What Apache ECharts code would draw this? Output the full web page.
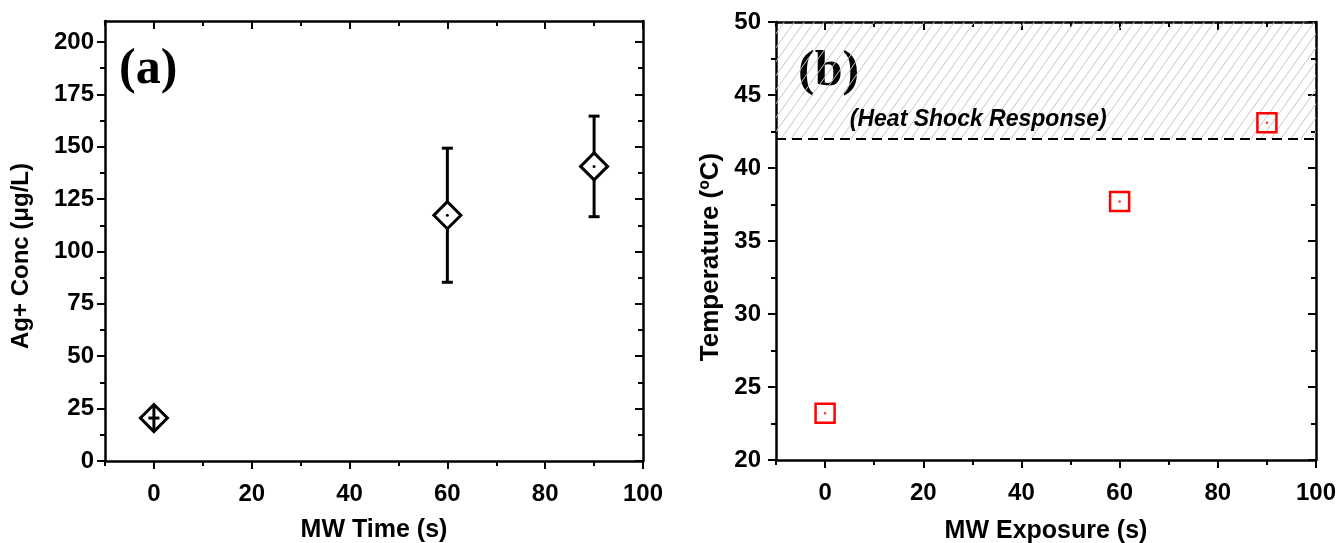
<!DOCTYPE html>
<html><head><meta charset="utf-8">
<script src="https://cdn.jsdelivr.net/npm/echarts@6.0.0/dist/echarts.min.js"></script>
<style>html,body{margin:0;padding:0;background:#fff}#c{width:1338px;height:543px}</style>
</head><body><div id="c"></div>
<script>
// ---- data ----
const agTime = [0, 60, 90];
const agConc = [20.5, 117.3, 140.6];
const agErr = [3, 32, 24];
const tempTime = [0, 60, 90];
const tempVal = [23.2, 37.7, 43.1];
const heatShockLow = 42;
const heatShockHigh = 50;
const annotationText = '(Heat Shock Response)';
const annotationPos = [31.2, 43.3];
const xMajor = [0, 20, 40, 60, 80, 100];
const xMinor = [-10, 10, 30, 50, 70, 90];
const yLeftMajor = [0, 25, 50, 75, 100, 125, 150, 175, 200];
const yLeftMinor = [12.5, 37.5, 62.5, 87.5, 112.5, 137.5, 162.5, 187.5];
const yRightMajor = [20, 25, 30, 35, 40, 45, 50];
const yRightMinor = [22.5, 27.5, 32.5, 37.5, 42.5, 47.5];

const FONT = 'Liberation Sans';

function makeAxes(dim, gi, min, max, major, minor, title, cfg) {
  const mainPos = dim === 'x' ? 'bottom' : 'left';
  const oppPos = dim === 'x' ? 'top' : 'right';
  const base = {type: 'value', gridIndex: gi, min: min, max: max, splitLine: {show: false}, axisPointer: {show: false}};
  const line = {show: true, onZero: false, lineStyle: {color: '#000', width: 2.5}};
  const noLine = {show: false, onZero: false};
  const ts = {color: '#000', width: 2};
  return [
    Object.assign({}, base, {
      position: mainPos, axisLine: line,
      axisTick: {show: true, inside: false, length: 8, customValues: major, lineStyle: ts},
      axisLabel: {show: true, customValues: major, margin: cfg.labelMargin, color: '#000',
        fontFamily: FONT, fontWeight: 'bold', fontSize: cfg.labelSize},
      name: title, nameLocation: 'middle', nameGap: cfg.nameGap,
      nameTextStyle: {color: '#000', fontFamily: FONT, fontWeight: 'bold', fontSize: cfg.nameSize,
        padding: cfg.namePadding || 0}
    }),
    Object.assign({}, base, {position: mainPos, axisLine: noLine,
      axisTick: {show: true, inside: false, length: 5, customValues: minor, lineStyle: ts},
      axisLabel: {show: false}}),
    Object.assign({}, base, {position: oppPos, axisLine: line,
      axisTick: {show: true, inside: true, length: 8, customValues: major, lineStyle: ts},
      axisLabel: {show: false}}),
    Object.assign({}, base, {position: oppPos, axisLine: noLine,
      axisTick: {show: true, inside: true, length: 5, customValues: minor, lineStyle: ts},
      axisLabel: {show: false}})
  ];
}

function hatchPattern() {
  const c = document.createElement('canvas');
  c.width = 10; c.height = 14;
  const g = c.getContext('2d');
  g.strokeStyle = '#c6c6c6'; g.lineWidth = 1;
  g.beginPath();
  g.moveTo(0, 14); g.lineTo(10, 0);
  g.moveTo(-10, 14); g.lineTo(0, 0);
  g.moveTo(10, 14); g.lineTo(20, 0);
  g.stroke();
  return c;
}

const chart = echarts.init(document.getElementById('c'), null, {renderer: 'canvas'});

const xAxes = [].concat(
  makeAxes('x', 0, -10, 100, xMajor, xMinor, 'MW Time (s)', {labelMargin: 21, labelSize: 24, nameGap: 57, nameSize: 25}),
  makeAxes('x', 1, -10, 100, xMajor, xMinor, 'MW Exposure (s)', {labelMargin: 21, labelSize: 24, nameGap: 59, nameSize: 25})
);
const yAxes = [].concat(
  makeAxes('y', 0, 0, 210, yLeftMajor, yLeftMinor, 'Ag+ Conc (\u03bcg/L)', {labelMargin: 11, labelSize: 24, nameGap: 72, nameSize: 24, namePadding: [0, 30, 0, 0]}),
  makeAxes('y', 1, 20, 50, yRightMajor, yRightMinor, 'Temperature (\u00baC)', {labelMargin: 15, labelSize: 24, nameGap: 52, nameSize: 26, namePadding: [0, 32, 0, 0]})
);

const agData = agTime.map((t, i) => [t, agConc[i], agErr[i]]);
const tempData = tempTime.map((t, i) => [t, tempVal[i]]);

chart.setOption({
  backgroundColor: '#fff',
  animation: false,
  grid: [
    {left: 105, top: 21, width: 538, height: 440, outerBoundsMode: 'none'},
    {left: 776, top: 22, width: 540, height: 438, outerBoundsMode: 'none'}
  ],
  xAxis: xAxes,
  yAxis: yAxes,
  graphic: [
    {type: 'text', x: 119, y: 70, style: {text: '(a)', font: 'bold 50px "Liberation Serif"', fill: '#000', verticalAlign: 'middle'}},
    {type: 'text', x: 798, y: 72, style: {text: '(b)', font: 'bold 50px "Liberation Serif"', fill: '#000', verticalAlign: 'middle'}}
  ],
  series: [
    {
      type: 'custom', xAxisIndex: 0, yAxisIndex: 0, data: agData, clip: false,
      renderItem: function (params, api) {
        const x = api.value(0), y = api.value(1), e = api.value(2);
        const c = api.coord([x, y]);
        const top = api.coord([x, y + e]);
        const bot = api.coord([x, y - e]);
        const hw = 13.5, hh = 13.5, cap = 5.5;
        const st = {stroke: '#000', lineWidth: 3};
        const ch = [];
        ch.push({type: 'line', shape: {x1: c[0], y1: top[1], x2: c[0], y2: bot[1]}, style: st});
        ch.push({type: 'line', shape: {x1: c[0] - cap, y1: top[1], x2: c[0] + cap, y2: top[1]}, style: st});
        ch.push({type: 'line', shape: {x1: c[0] - cap, y1: bot[1], x2: c[0] + cap, y2: bot[1]}, style: st});
        ch.push({type: 'polygon', shape: {points: [[c[0], c[1] - hh], [c[0] + hw, c[1]], [c[0], c[1] + hh], [c[0] - hw, c[1]]]},
          style: {fill: '#fff', stroke: '#000', lineWidth: 3}});
        if (c[1] - top[1] < hh) {
          ch.push({type: 'line', shape: {x1: c[0], y1: c[1] - hh, x2: c[0], y2: c[1] + hh}, style: st});
          ch.push({type: 'line', shape: {x1: c[0] - cap, y1: c[1], x2: c[0] + cap, y2: c[1]}, style: st});
        } else {
          ch.push({type: 'circle', shape: {cx: c[0], cy: c[1], r: 1.5}, style: {fill: '#000'}});
        }
        return {type: 'group', children: ch};
      }
    },
    {
      type: 'scatter', xAxisIndex: 4, yAxisIndex: 4, data: tempData,
      symbol: 'rect', symbolSize: 19,
      itemStyle: {color: 'rgba(0,0,0,0)', borderColor: '#ff0000', borderWidth: 2.5, opacity: 1},
      z: 5,
      markArea: {
        silent: true,
        itemStyle: {color: {image: hatchPattern(), repeat: 'repeat'}, borderWidth: 0},
        data: [[{yAxis: heatShockLow}, {yAxis: heatShockHigh}]]
      },
      markLine: {
        silent: true, symbol: ['none', 'none'],
        lineStyle: {color: '#000', width: 2, type: [10, 6]},
        label: {show: false},
        data: [{yAxis: heatShockLow}]
      },
      markPoint: {
        silent: true, symbol: 'circle', symbolSize: 1,
        itemStyle: {color: 'rgba(0,0,0,0)'},
        label: {show: true, position: 'inside', formatter: annotationText, color: '#000',
          fontFamily: FONT, fontWeight: 'bold', fontStyle: 'italic', fontSize: 23},
        data: [{coord: annotationPos}]
      }
    },
    {
      type: 'scatter', xAxisIndex: 4, yAxisIndex: 4, data: tempData,
      symbol: 'circle', symbolSize: 2.5, itemStyle: {color: '#ff0000'}, z: 6
    }
  ]
});
</script>
</body></html>
